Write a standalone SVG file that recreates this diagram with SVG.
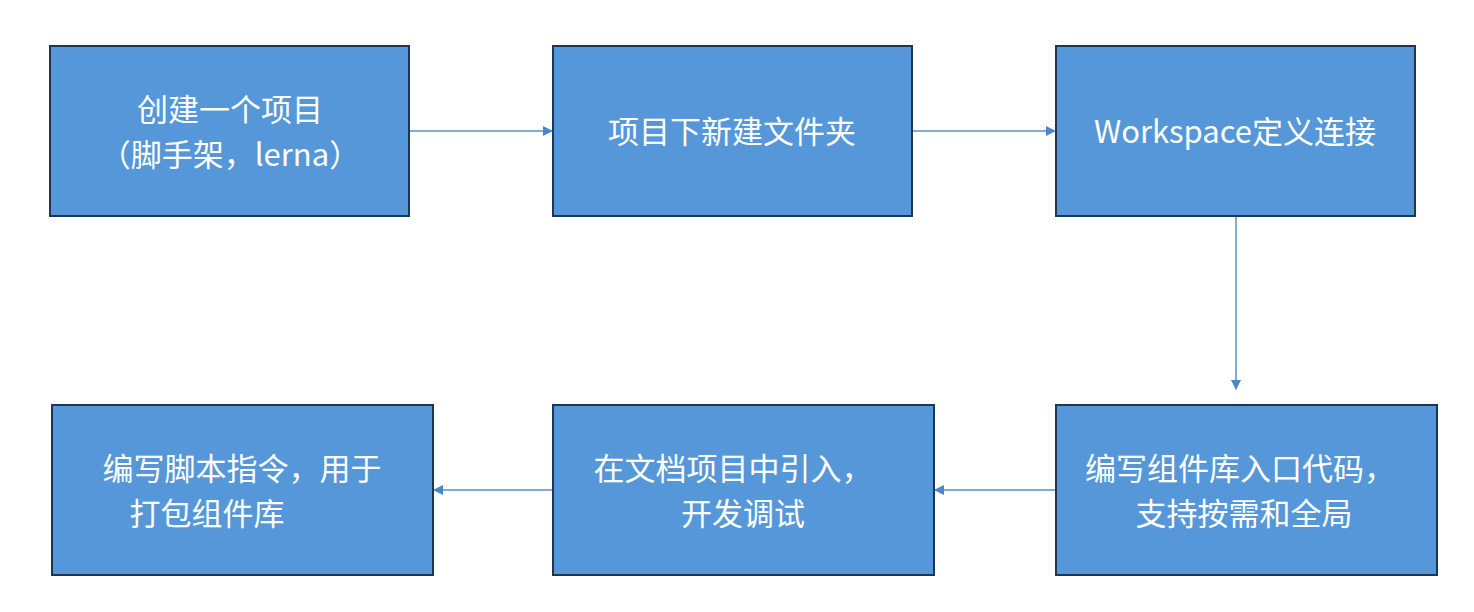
<svg xmlns="http://www.w3.org/2000/svg" width="1474" height="612" viewBox="0 0 1474 612">
<style>
.box{fill:#5597d8;stroke:#1f3554;stroke-width:2}
.t{font-family:"Noto Sans CJK SC","Liberation Sans",sans-serif;font-size:31px;fill:#fff;text-anchor:middle}
.c{stroke:#5b8ec8;stroke-width:1.5;fill:none;marker-end:url(#a)}
</style>
<defs><marker id="a" markerWidth="10" markerHeight="10" refX="9" refY="5" orient="auto" markerUnits="userSpaceOnUse"><path d="M0,0L10,5L0,10z" fill="#4a86c8"/></marker></defs>
<rect width="1474" height="612" fill="#fff"/>
<g id="n1"><rect class="box" x="50" y="46" width="359" height="170"/><text class="t" x="230" y="121">创建一个项目</text><text class="t" x="230" y="166">（脚手架，lerna）</text></g>
<g id="n2"><rect class="box" x="553" y="46" width="359" height="170"/><text class="t" x="732" y="143">项目下新建文件夹</text></g>
<g id="n3"><rect class="box" x="1056" y="46" width="359" height="170"/><text class="t" x="1235" y="143">Workspace定义连接</text></g>
<g id="n4"><rect class="box" x="1056" y="405" width="381" height="170"/><text class="t" x="1240" y="480">编写组件库入口代码，</text><text class="t" x="1244" y="525">支持按需和全局</text></g>
<g id="n5"><rect class="box" x="553" y="405" width="381" height="170"/><text class="t" x="733" y="480">在文档项目中引入，</text><text class="t" x="743" y="525">开发调试</text></g>
<g id="n6"><rect class="box" x="52" y="405" width="381" height="170"/><text class="t" x="242" y="480">编写脚本指令，用于</text><text class="t" x="207" y="525">打包组件库</text></g>
<g id="connectors">
<path class="c" d="M410,131H552"/>
<path class="c" d="M913,131H1055"/>
<path class="c" d="M1236,217V389"/>
<path class="c" d="M1055,490H935"/>
<path class="c" d="M552,490H434"/>
</g>
</svg>
